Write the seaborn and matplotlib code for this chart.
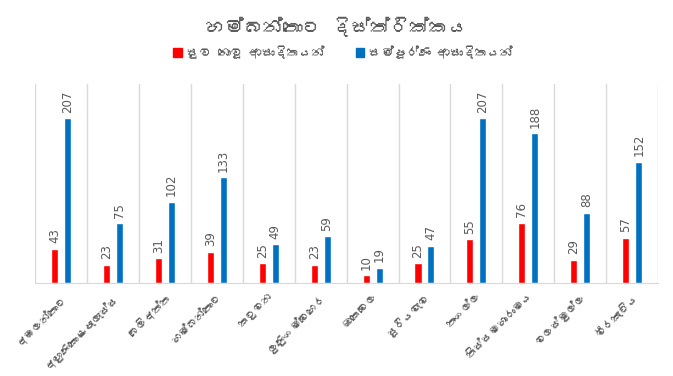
import matplotlib
matplotlib.use("Agg")
import matplotlib.pyplot as plt
import seaborn as sns
import pandas as pd
from matplotlib import font_manager
from matplotlib.patches import Patch

divisions = [
    "අඹලන්තොට", "අඟුණකොළපැලැස්ස", "බෙලිඅත්ත", "හම්බන්තොට",
    "කටුවන", "ලුණුගම්වෙහෙර", "ඔකෙවෙල", "සූරියවැව",
    "තංගල්ල", "තිස්සමහාරාමය", "වලස්මුල්ල", "වීරකැටිය",
]
not_recovered = [43, 23, 31, 39, 25, 23, 10, 25, 55, 76, 29, 57]
total_infected = [207, 75, 102, 133, 49, 59, 19, 47, 207, 188, 88, 152]
series_names = ["සුව නොවූ ආසාදිතයන්", "සම්පූර්ණ ආසාදිතයන්"]
title = "හම්බන්තොට දිස්ත්රික්කය"
colors = ["#FF0000", "#0070C0"]


def sinhala_font():
    # look for any installed font that covers Sinhala
    try:
        from fontTools.ttLib import TTFont
    except ImportError:
        return None
    for path in sorted(font_manager.findSystemFonts()):
        try:
            cmap = TTFont(path, fontNumber=0, lazy=True).getBestCmap()
        except Exception:
            continue
        if cmap and 0x0DC4 in cmap and 0x0D9A in cmap:
            font_manager.fontManager.addfont(path)
            return font_manager.FontProperties(fname=path).get_name()
    return None


sns.set_style("white")
fam = sinhala_font()
plt.rcParams["font.family"] = ([fam] if fam else []) + ["DejaVu Sans"]

df = pd.DataFrame({
    "division": divisions * 2,
    "value": not_recovered + total_infected,
    "series": [series_names[0]] * len(divisions) + [series_names[1]] * len(divisions),
})

fig = plt.figure(figsize=(6.73, 3.76), dpi=100)
ax = fig.add_axes([0.052, 0.247, 0.926, 0.53])

sns.barplot(data=df, x="division", y="value", hue="series", order=divisions,
            hue_order=series_names, palette=colors, saturation=1, width=0.5,
            gap=0.46, legend=False, ax=ax)

ax.set_ylim(0, 250)
ax.set_xlim(-0.5, len(divisions) - 0.5)
ax.set_xlabel("")
ax.set_ylabel("")
ax.set_yticks([])

grey = "#595959"
for cont in ax.containers:
    ax.bar_label(cont, padding=4, rotation=90, fontsize=8.5, color=grey,
                 family="DejaVu Sans")

# vertical category separators
for i in range(len(divisions) + 1):
    ax.axvline(i - 0.5, color="#D9D9D9", lw=1, zorder=0)

for s in ["top", "right", "left"]:
    ax.spines[s].set_visible(False)
ax.spines["bottom"].set_color("#D9D9D9")

ax.set_xticks(range(len(divisions)))
ax.set_xticklabels(divisions, rotation=45, ha="right", rotation_mode="anchor",
                   fontsize=8, color=grey)
ax.tick_params(axis="x", length=0, pad=6)

fig.suptitle(title, y=0.955, fontsize=14, color=grey)

handles = [Patch(color=c, label=n) for c, n in zip(colors, series_names)]
fig.legend(handles=handles, loc="center", bbox_to_anchor=(0.51, 0.862), ncol=2,
           frameon=False, fontsize=9, labelcolor=grey, handlelength=0.7,
           handleheight=0.7, handletextpad=0.4, columnspacing=2.5)

fig.savefig("out.png", dpi=100)
